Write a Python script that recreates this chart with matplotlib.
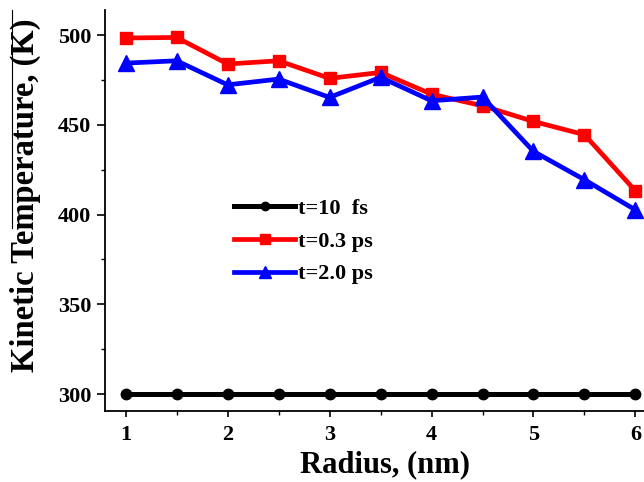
import matplotlib
matplotlib.use('Agg')
import matplotlib.pyplot as plt
from matplotlib.ticker import MultipleLocator
from matplotlib.lines import Line2D

radius = [1.0, 1.5, 2.0, 2.5, 3.0, 3.5, 4.0, 4.5, 5.0, 5.5, 6.0]
temp_10fs = [300, 300, 300, 300, 300, 300, 300, 300, 300, 300, 300]
temp_03ps = [498.4, 498.7, 483.9, 485.7, 475.9, 479.2, 467.1, 460.6, 451.9, 444.5, 413.2]
temp_20ps = [484.4, 485.7, 472.3, 475.5, 465.3, 476.5, 463.4, 465.5, 435.2, 419.4, 402.6]

plt.rcParams['font.family'] = ['Liberation Serif', 'DejaVu Serif']
plt.rcParams['font.weight'] = 'bold'

fig = plt.figure(figsize=(6.44, 4.82), dpi=100)
ax = fig.add_axes([105 / 644, 1 - 410.7 / 482, 560 / 644, 400.7 / 482])

ax.plot(radius, temp_10fs, color='black', lw=3.6, marker='o', ms=7.5, label='t=10  fs')
ax.plot(radius, temp_03ps, color='#ff0000', lw=3.4, marker='s', ms=9, label='t=0.3 ps')
ax.plot(radius, temp_20ps, color='#0000ff', lw=3.4, marker='^', ms=11, label='t=2.0 ps')

ax.set_xlim(0.797, 6.29)
ax.set_ylim(290.7, 514)
ax.xaxis.set_major_locator(MultipleLocator(1))
ax.xaxis.set_minor_locator(MultipleLocator(0.5))
ax.yaxis.set_major_locator(MultipleLocator(50))
ax.yaxis.set_minor_locator(MultipleLocator(25))
ax.tick_params(which='major', direction='out', width=1.2, labelsize=16)
ax.tick_params(axis='y', which='major', length=6, pad=4)
ax.tick_params(axis='x', which='major', length=4.5, pad=6)
ax.tick_params(which='minor', direction='out', length=3, width=1)
for side in ('top', 'right'):
    ax.spines[side].set_visible(False)
for side in ('left', 'bottom'):
    ax.spines[side].set_linewidth(1.3)

ax.set_xlabel('Radius, (nm)', fontsize=22, fontweight='bold', labelpad=3.5)
ax.set_ylabel('Kinetic Temperature, (K)', fontsize=23.5, fontweight='bold')
ax.yaxis.set_label_coords(-0.114, 0.537)

leg = ax.legend(loc='upper left', bbox_to_anchor=(0.195, 0.58), frameon=False,
                fontsize=16, handlelength=2.75, handletextpad=0.1, labelspacing=0.55,
                markerscale=0.8)
for t in leg.get_texts():
    t.set_fontweight('bold')

# thin frame edge on the far left
fig.add_artist(Line2D([11.7 / 644, 11.7 / 644], [1 - 10 / 482, 1 - 228 / 482],
                      color='black', lw=0.8))

fig.savefig('out.png', dpi=100)
